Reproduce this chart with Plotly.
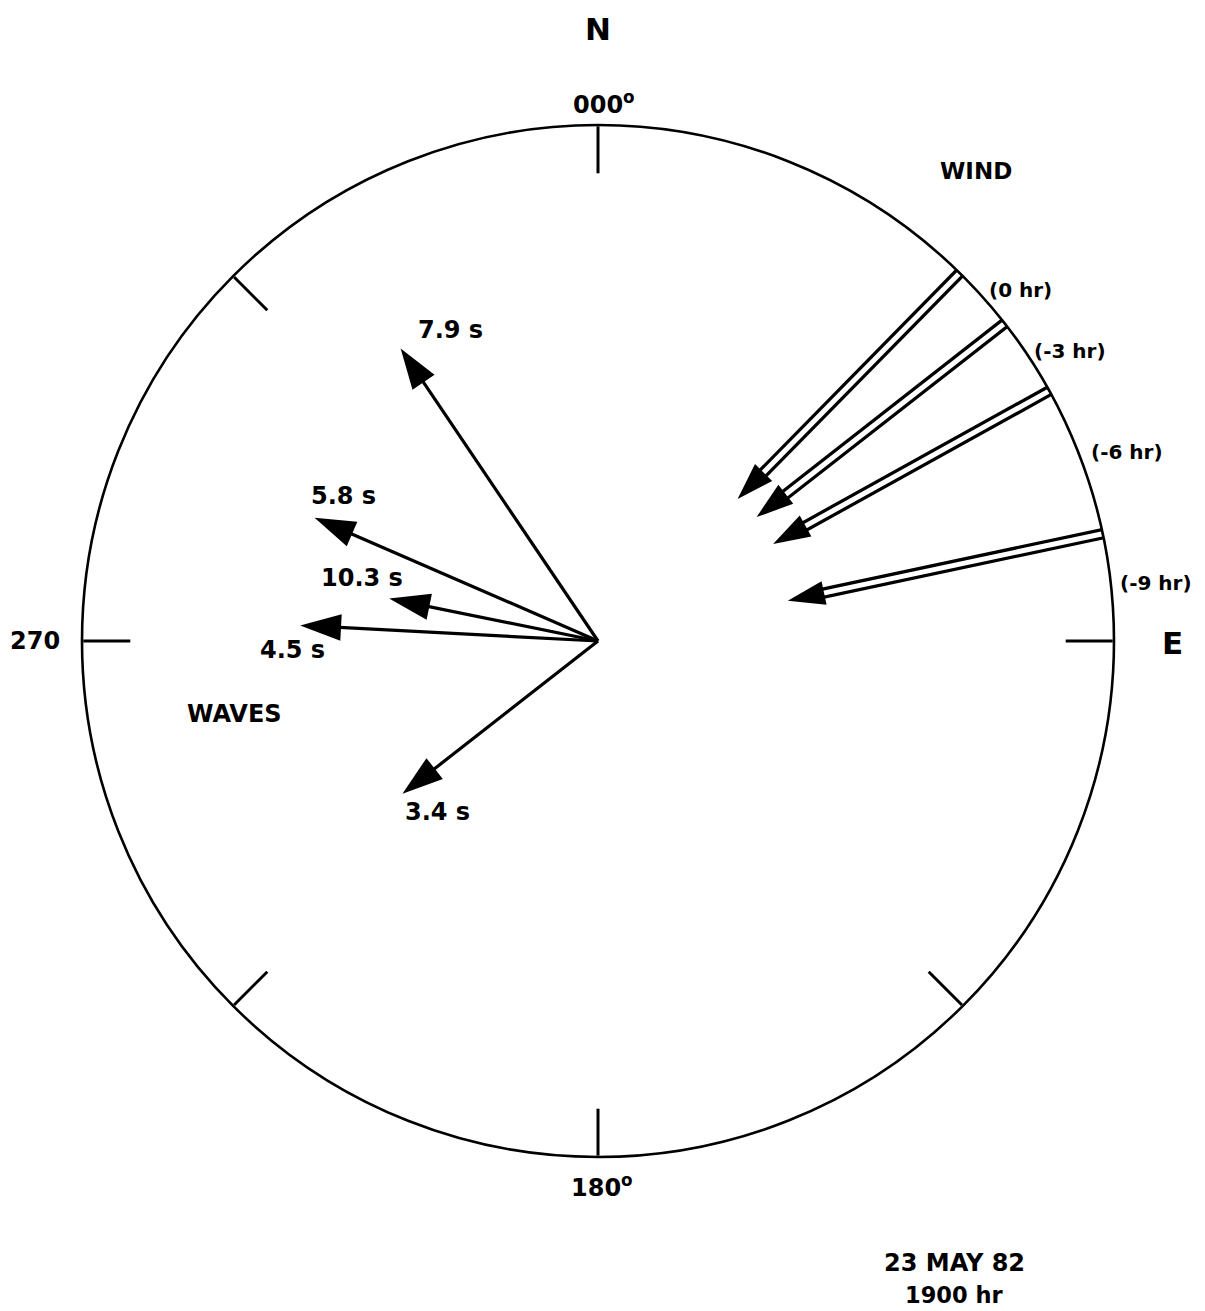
import numpy as np
import plotly.graph_objects as go

# ---------------- data ----------------
tick_bearings = [0, 90, 135, 180, 225, 270, 315]

wind_labels = ["(0 hr)", "(-3 hr)", "(-6 hr)", "(-9 hr)"]
wind_from_deg = [44.5, 52.0, 61.0, 78.0]          # direction wind blows from
wind_tip_r = [0.386, 0.390, 0.388, 0.376]          # fraction of circle radius

wave_labels = ["7.9 s", "5.8 s", "10.3 s", "4.5 s", "3.4 s"]
wave_toward_deg = [326.0, 293.5, 281.5, 273.0, 232.0]
wave_len = [0.684, 0.599, 0.413, 0.578, 0.481]

compass_labels = ["N", "000<sup>o</sup>", "270", "E", "180<sup>o</sup>"]
date_labels = ["23 MAY 82", "1900 hr"]

# ---------------- layout helpers ----------------
OFF = 8                                  # page body margin
W, H = 1205 - OFF, 1311 - OFF
CX, CY, R = 598, 641, 516                # circle centre / radius in screen pixels


def P(px, py):
    return (px - OFF) / W, 1 - (py - OFF) / H


FONT = dict(family="DejaVu Sans", color="black", weight="bold")

fig = go.Figure()

# wave arrows (shaft + head)
wave_head = 43
wave_head_len = 0.951 * wave_head / R
th, rr = [], []
for b, L in zip(wave_toward_deg, wave_len):
    th += [b, b, None]
    rr += [0, L - 0.5 * wave_head_len, None]
fig.add_trace(go.Scatterpolar(theta=th, r=rr, mode="lines",
                              line=dict(color="black", width=3.2),
                              hoverinfo="skip", showlegend=False))
fig.add_trace(go.Scatterpolar(theta=wave_toward_deg, r=wave_len, mode="markers",
                              marker=dict(symbol="arrow", size=wave_head, color="black",
                                          angle=wave_toward_deg, line=dict(width=0)),
                              hoverinfo="skip", showlegend=False))

# wind arrows (double shaft + head)
wind_head = 39
wind_head_len = 0.951 * wind_head / R
th_o, rr_o, th_i, rr_i = [], [], [], []
for b, rt in zip(wind_from_deg, wind_tip_r):
    th_o += [b, b, None]
    rr_o += [1.003, rt + 0.75 * wind_head_len, None]
    th_i += [b, b, None]
    rr_i += [0.998, rt + 0.95 * wind_head_len, None]
fig.add_trace(go.Scatterpolar(theta=th_o, r=rr_o, mode="lines",
                              line=dict(color="black", width=11.5),
                              hoverinfo="skip", showlegend=False))
fig.add_trace(go.Scatterpolar(theta=th_i, r=rr_i, mode="lines",
                              line=dict(color="white", width=5),
                              hoverinfo="skip", showlegend=False))
wind_toward = [(b + 180) % 360 for b in wind_from_deg]
fig.add_trace(go.Scatterpolar(theta=wind_from_deg, r=wind_tip_r, mode="markers",
                              marker=dict(symbol="arrow", size=wind_head, color="black",
                                          angle=wind_toward, line=dict(width=0)),
                              hoverinfo="skip", showlegend=False))

# ---------------- text ----------------
ann = []


def txt(s, px, py, size):
    x, y = P(px, py)
    ann.append(dict(text=s, x=x, y=y, xref="paper", yref="paper", showarrow=False,
                    xanchor="center", yanchor="middle", font=dict(FONT, size=size)))


compass_pos = [(598, 29, 31), (604, 103, 24), (35, 641, 24), (1172, 643, 31), (602, 1186, 24)]
for s, (px, py, sz) in zip(compass_labels, compass_pos):
    txt(s, px, py, sz)

wind_pos = [(1020, 290), (1070, 351), (1127, 452), (1156, 583)]
for s, (px, py) in zip(wind_labels, wind_pos):
    txt(s, px, py, 20)
txt("WIND", 976, 171, 23)

wave_pos = [(450, 330), (343, 496), (362, 578), (292, 650), (437, 812)]
for s, (px, py) in zip(wave_labels, wave_pos):
    txt(s, px, py, 24)
txt("WAVES", 234, 714, 24)

for s, py, sz in zip(date_labels, [1263, 1295], [24, 22.5]):
    txt(s, 954, py, sz)

fig.update_layout(
    width=W, height=H, margin=dict(l=0, r=0, t=0, b=0),
    paper_bgcolor="white", plot_bgcolor="white",
    showlegend=False, annotations=ann,
    polar=dict(
        domain=dict(x=[(CX - R - OFF) / W, (CX + R - OFF) / W],
                    y=[1 - (CY + R - OFF) / H, 1 - (CY - R - OFF) / H]),
        bgcolor="white",
        radialaxis=dict(range=[0, 1], visible=False),
        angularaxis=dict(rotation=90, direction="clockwise",
                         showline=True, linecolor="black", linewidth=2.6,
                         showgrid=False, ticks="inside", tickmode="array",
                         tickvals=tick_bearings, ticklen=47, tickwidth=2.6,
                         tickcolor="black", showticklabels=False),
    ),
)

fig.write_html("out.html")
